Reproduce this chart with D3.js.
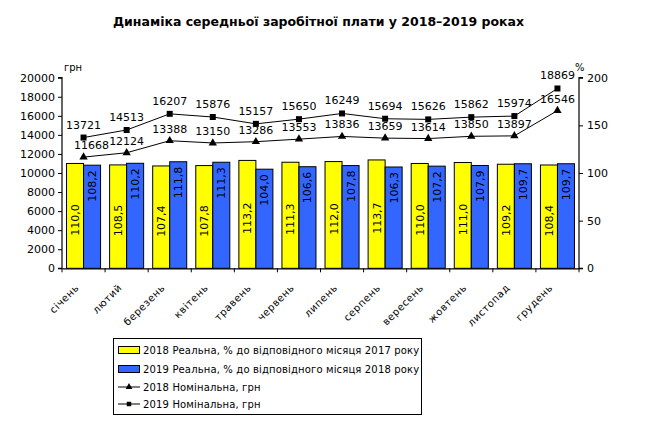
<!DOCTYPE html>
<html><head><meta charset="utf-8">
<script src="https://cdn.jsdelivr.net/npm/d3@7"></script>
<style>
body{margin:0;background:#fff;}
svg{display:block;font-family:"DejaVu Sans",Verdana,sans-serif;}
</style></head>
<body>
<svg id="c" width="660" height="429"></svg>
<script>
const months = ["січень","лютий","березень","квітень","травень","червень","липень","серпень","вересень","жовтень","листопад","грудень"];
const real2018 = [110.0,108.5,107.4,107.8,113.2,111.3,112.0,113.7,110.0,111.0,109.2,108.4];
const real2019 = [108.2,110.2,111.8,111.3,104.0,106.6,107.8,106.3,107.2,107.9,109.7,109.7];
const nom2018 = [11668,12124,13388,13150,13286,13553,13836,13659,13614,13850,13897,16546];
const nom2019 = [13721,14513,16207,15876,15157,15650,16249,15694,15626,15862,15974,18869];
const leftTicks = [0,2000,4000,6000,8000,10000,12000,14000,16000,18000,20000];
const rightTicks = [0,50,100,150,200];
const legendLabels = ["2018 Реальна, % до відповідного місяця 2017 року","2019 Реальна, % до відповідного місяця 2018 року","2018 Номінальна, грн","2019 Номінальна, грн"];
const title = "Динаміка середньої заробітної плати у 2018–2019 роках";

const svg = d3.select("#c");
const L=62, R=579, T=77.7, B=268.3;
const fmt = v => v.toFixed(1).replace(".", ",");

const x = d3.scaleBand().domain(months).range([L,R]).paddingInner(0.21).paddingOuter(0.105);
const xc = d3.scaleBand().domain(months).range([L,R]);
const yL = d3.scaleLinear().domain([0,20000]).range([B,T]);
const yR = d3.scaleLinear().domain([0,200]).range([B,T]);
const sub = d3.scaleBand().domain([0,1]).range([0,x.bandwidth()]);

svg.append("text").attr("x",318.5).attr("y",25.5).attr("text-anchor","middle")
  .attr("font-family","'DejaVu Sans', sans-serif").attr("font-weight","bold").attr("font-size",12.5)
  .text(title);

// bars
const bars = [real2018, real2019];
const colors = ["#FFFF00","#3366FF"];
bars.forEach((arr,k)=>{
  svg.append("g").selectAll("rect").data(arr).join("rect")
    .attr("x",(d,i)=>x(months[i])+sub(k)).attr("width",sub.bandwidth())
    .attr("y",d=>yR(d)).attr("height",d=>B-yR(d))
    .attr("fill",colors[k]).attr("stroke","#000").attr("stroke-width",1);
});
// bar labels
bars.forEach((arr,k)=>{
  svg.append("g").selectAll("text").data(arr).join("text")
    .attr("transform",(d,i)=>{
      const cx = x(months[i])+sub(k)+sub.bandwidth()/2+4;
      const cy = k===0 ? (yR(d)+B)/2+4 : yR(d)+5;
      return `translate(${cx},${cy}) rotate(-90)`;
    })
    .attr("text-anchor",k===0?"middle":"end")
    .attr("font-size",11).attr("fill","#000").text(d=>fmt(d));
});

// axes
const gl = svg.append("g").attr("transform",`translate(${L},0)`)
  .call(d3.axisLeft(yL).tickValues(leftTicks).tickSize(4).tickPadding(3).tickFormat(d3.format("d")));
const gr = svg.append("g").attr("transform",`translate(${R},0)`)
  .call(d3.axisRight(yR).tickValues(rightTicks).tickSize(4).tickPadding(4));
const gb = svg.append("g").attr("transform",`translate(0,${B})`)
  .call(d3.axisBottom(xc).tickSize(0).tickFormat(""));
[gl,gr,gb].forEach(g=>{
  g.select(".domain").attr("stroke","#000").attr("stroke-width",1.2);
  g.selectAll(".tick line").attr("stroke","#000");
  g.selectAll(".tick text").attr("font-size",11).attr("fill","#000").attr("font-family","DejaVu Sans");
});
gl.select(".domain").attr("d",`M-4,${T}H0V${B}H-4`);
gr.select(".domain").attr("d",`M4,${T}H0V${B}H4`);
// x boundary ticks
svg.append("g").selectAll("line").data(d3.range(months.length+1)).join("line")
  .attr("x1",i=>L+i*xc.step()).attr("x2",i=>L+i*xc.step())
  .attr("y1",B).attr("y2",B+4).attr("stroke","#000");
// x labels
svg.append("g").selectAll("text").data(months).join("text")
  .attr("transform",d=>`translate(${xc(d)+xc.bandwidth()/2-4},${B+20}) rotate(-45)`)
  .attr("text-anchor","end").attr("font-size",10).attr("letter-spacing",0.6).attr("fill","#000").text(d=>d);

svg.append("text").attr("x",64).attr("y",71).attr("font-size",10).text("грн");
svg.append("text").attr("x",575).attr("y",71).attr("font-size",10).text("%");

// lines
const cx = d => xc(d)+xc.bandwidth()/2;
const line = d3.line().x((d,i)=>cx(months[i])).y(d=>yL(d));
svg.append("path").datum(nom2018).attr("d",line).attr("fill","none").attr("stroke","#000").attr("stroke-width",1);
svg.append("path").datum(nom2019).attr("d",line).attr("fill","none").attr("stroke","#000").attr("stroke-width",1);
const tri = d3.symbol().type(d3.symbolTriangle).size(30);
const sq = d3.symbol().type(d3.symbolSquare).size(36);
svg.append("g").selectAll("path").data(nom2018).join("path")
  .attr("transform",(d,i)=>`translate(${cx(months[i])},${yL(d)})`).attr("d",tri).attr("fill","#000");
svg.append("g").selectAll("path").data(nom2019).join("path")
  .attr("transform",(d,i)=>`translate(${cx(months[i])},${yL(d)})`).attr("d",sq).attr("fill","#000");
svg.append("g").selectAll("text").data(nom2018).join("text")
  .attr("x",(d,i)=>cx(months[i])+(i===0?8:0)).attr("y",d=>yL(d)-8)
  .attr("text-anchor","middle").attr("font-size",11).text(d=>d);
svg.append("g").selectAll("text").data(nom2019).join("text")
  .attr("x",(d,i)=>cx(months[i])).attr("y",d=>yL(d)-9)
  .attr("text-anchor","middle").attr("font-size",11).text(d=>d);

// legend
const lg = svg.append("g");
lg.append("rect").attr("x",113.5).attr("y",338.5).attr("width",308).attr("height",76).attr("fill","#fff").attr("stroke","#000");
const rowsY = [351,370,388,405];
legendLabels.forEach((t,i)=>{
  const y=rowsY[i];
  if(i<2){
    lg.append("rect").attr("x",118.5).attr("y",y-4.5).attr("width",21).attr("height",7).attr("fill",colors[i]).attr("stroke","#000");
  } else {
    lg.append("line").attr("x1",118).attr("x2",140).attr("y1",y-1).attr("y2",y-1).attr("stroke","#000");
    lg.append("path").attr("transform",`translate(129,${y-1})`).attr("d",i===2?d3.symbol().type(d3.symbolTriangle).size(20)():d3.symbol().type(d3.symbolSquare).size(20)()).attr("fill","#000");
  }
  lg.append("text").attr("x",143).attr("y",y+3).attr("font-size",10).attr("letter-spacing",0.15).text(t);
});
</script>
</body></html>
